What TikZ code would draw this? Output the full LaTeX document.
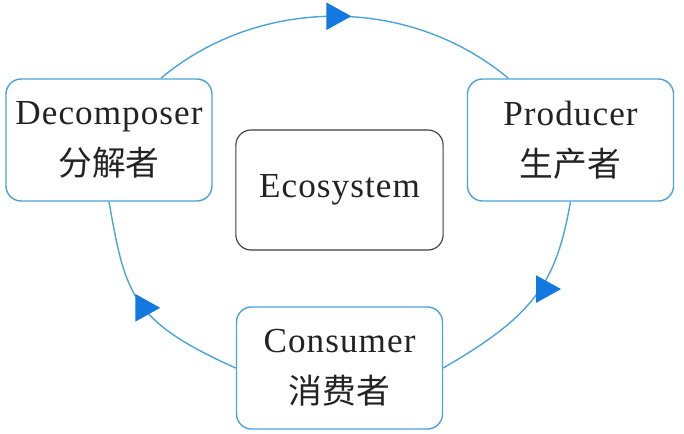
\documentclass[tikz,border=0pt]{standalone}
\usepackage{fontspec}
\usepackage{tikz}
\usetikzlibrary{shapes.geometric, calc}
\setmainfont{Liberation Serif}[LetterSpace=3]
\newfontfamily\cjk{Noto Sans CJK SC}
\definecolor{linkblue}{RGB}{75, 165, 215}
\definecolor{tipblue}{RGB}{20, 120, 225}
\definecolor{coregray}{RGB}{60, 60, 60}
\definecolor{inkgray}{RGB}{35, 35, 35}

\begin{document}
\begin{tikzpicture}[
    x=0.025cm, y=-0.025cm,
    unit/.style={draw=linkblue, line width=1pt, rounded corners=0.38cm, minimum width=5.15cm, minimum height=3.05cm, align=center, text=inkgray, font=\fontsize{25}{36}\selectfont},
    core/.style={unit, draw=coregray, line width=0.8pt, minimum width=5.18cm, minimum height=3cm},
    link/.style={draw=linkblue, line width=1pt},
    tip/.style={isosceles triangle, isosceles triangle apex angle=58, fill=tipblue, inner sep=0pt, minimum height=0.62cm}
]
\useasboundingbox (0,0) rectangle (684,434);

\node[unit] (dec) at (109,140) {Decomposer\\{\cjk\fontsize{24}{36}\selectfont 分解者}};
\node[unit] (pro) at (570.5,140) {Producer\\{\cjk\fontsize{24}{36}\selectfont 生产者}};
\node[core] (eco) at (339.5,190) {Ecosystem};
\node[unit] (con) at (339.5,368) {Consumer\\{\cjk\fontsize{24}{36}\selectfont 消费者}};

\coordinate (decout) at ($(dec.north west)!0.75!(dec.north east)$);
\coordinate (proin) at ($(pro.north west)!0.2!(pro.north east)$);

\draw[link] (decout) to[out=40, in=140, looseness=0.95] node[tip, pos=0.5] (t1) {} (proin);
\draw[link] (pro.south) to[out=-100, in=30, out looseness=1, in looseness=1.3] node[tip, pos=0.46, xshift=0.1cm] (t2) {} (con.east);
\draw[link] (con.west) to[out=156, in=-80, out looseness=1.4, in looseness=1.15] node[tip, pos=0.46] (t3) {} (dec.south);
\end{tikzpicture}
\end{document}
